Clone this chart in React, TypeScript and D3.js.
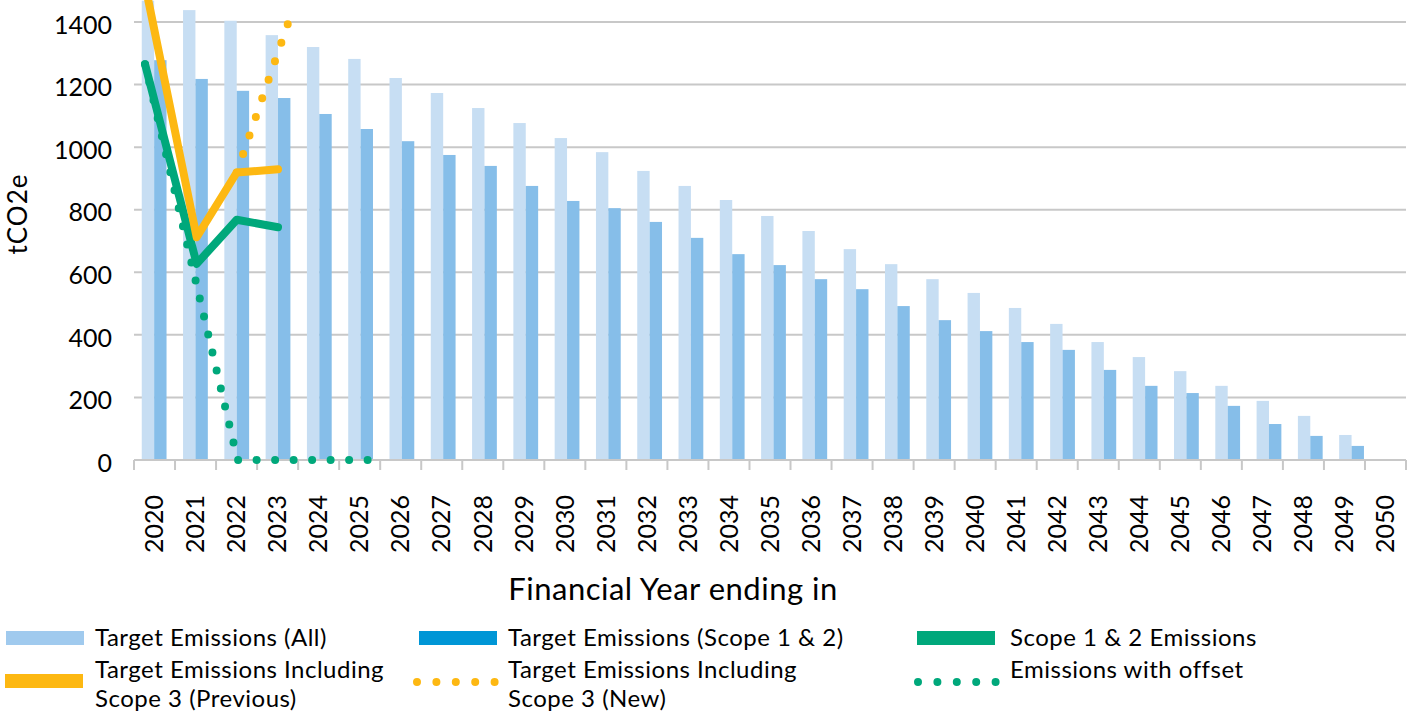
import React from "react";
import * as d3 from "d3";

const years = [
  "2020", "2021", "2022", "2023", "2024", "2025", "2026", "2027", "2028", "2029", "2030",
  "2031", "2032", "2033", "2034", "2035", "2036", "2037", "2038", "2039", "2040",
  "2041", "2042", "2043", "2044", "2045", "2046", "2047", "2048", "2049", "2050",
];

const targetAll = [
  1468, 1438, 1404, 1358, 1320, 1282, 1221, 1173, 1125, 1077, 1029,
  984, 924, 876, 831, 780, 732, 674, 626, 578, 534,
  486, 435, 377, 329, 284, 237, 189, 141, 80, 0,
];

const targetScope12 = [
  1278, 1218, 1180, 1157, 1106, 1058, 1019, 975, 940, 876, 828,
  805, 761, 710, 658, 623, 578, 546, 492, 447, 412,
  377, 352, 288, 237, 214, 173, 115, 77, 45, 0,
];

const yTicks = [0, 200, 400, 600, 800, 1000, 1200, 1400];

// line series: [position on the year axis, tCO2e]
const scope12Emissions: [number, number][] = [[2019.78, 1265], [2021.03, 627], [2022, 768], [2023, 744]];
const scope3Previous: [number, number][] = [[2019.78, 1520], [2021.03, 712], [2022, 919], [2023, 929]];
const scope3New: [number, number][] = [[2022, 919], [2023.24, 1395]];
const withOffset: [number, number][] = [[2019.78, 1265], [2022.02, 0], [2025.2, 0]];

const legendLabels = [
  ["Target Emissions (All)"],
  ["Target Emissions (Scope 1 & 2)"],
  ["Scope 1 & 2 Emissions"],
  ["Target Emissions Including", "Scope 3 (Previous)"],
  ["Target Emissions Including", "Scope 3 (New)"],
  ["Emissions with offset"],
];

const LIGHT_BAR = "#C7DEF3";
const DARK_BAR = "#86BEE9";
const LIGHT_KEY = "#A0CAEE";
const DARK_KEY = "#0096D6";
const YELLOW = "#FDB812";
const GREEN = "#00A87B";
const GRID = "#C8C8C8";
const FONT = "Lato, 'Open Sans', sans-serif";

export default function App() {
  const W = 1413, H = 713;
  const left = 134, right = 1406, top = 22, bottom = 460;

  // ticks and labels sit on this band
  const xTick = d3.scaleBand().domain(years).range([left, right]);
  // bars and lines sit on a slightly wider year axis
  const xPos = d3.scaleLinear().domain([2019.5, 2050.5]).range([133.5, 1413.5]);
  const y = d3.scaleLinear().domain([0, 1400]).range([bottom, top]);

  const barStep = xPos(1) - xPos(0);
  const barW = barStep * 0.3;
  const line = d3.line<[number, number]>().x(d => xPos(d[0])).y(d => y(d[1]));

  const boundaries = years.map(yr => xTick(yr) as number).concat([right]);

  // legend layout
  const colSwatch = [6, 419, 917];
  const colText = [95, 508, 1010];
  const swatchW = 78;

  return (
    <svg width={W} height={H} style={{ position: "absolute", left: 0, top: 0 }} fontFamily={FONT}>
      <rect width={W} height={H} fill="#fff" />

      {/* gridlines */}
      {yTicks.filter(t => t > 0).map(t => (
        <line key={t} x1={left} x2={right} y1={y(t)} y2={y(t)} stroke={GRID} strokeWidth={2} />
      ))}

      {/* bars */}
      {years.map((yr, i) => {
        const c = xPos(+yr);
        return (
          <g key={yr}>
            <rect x={c - barW} y={y(targetAll[i])} width={barW} height={bottom - y(targetAll[i])} fill={LIGHT_BAR} />
            <rect x={c} y={y(targetScope12[i])} width={barW} height={bottom - y(targetScope12[i])} fill={DARK_BAR} />
          </g>
        );
      })}

      {/* x axis */}
      <line x1={left} x2={right} y1={bottom} y2={bottom} stroke={GRID} strokeWidth={2} />
      {boundaries.map((bx, i) => (
        <line key={i} x1={bx} x2={bx} y1={bottom} y2={bottom + 10} stroke={GRID} strokeWidth={2} />
      ))}
      {years.map(yr => {
        const cx = (xTick(yr) as number) + xTick.bandwidth() / 2;
        return (
          <text key={yr} x={cx} y={553} dy="0.35em" fontSize={25} fill="#000"
            transform={`rotate(-90, ${cx}, 553)`} textAnchor="start">{yr}</text>
        );
      })}

      {/* y axis labels */}
      {yTicks.map(t => (
        <text key={t} x={112} y={y(t) + 3} dy="0.35em" fontSize={25} textAnchor="end" fill="#000">{t}</text>
      ))}
      <text x={18} y={214} dy="0.35em" fontSize={26} letterSpacing={1} textAnchor="middle" fill="#000"
        transform="rotate(-90, 18, 214)">tCO2e</text>
      <text x={673} y={600} fontSize={31} letterSpacing={0.5} textAnchor="middle" fill="#000">Financial Year ending in</text>

      {/* lines */}
      <path d={line(scope12Emissions) || ""} fill="none" stroke={GREEN} strokeWidth={8} strokeLinejoin="round" strokeLinecap="round" />
      <path d={line(scope3Previous) || ""} fill="none" stroke={YELLOW} strokeWidth={8} strokeLinejoin="round" strokeLinecap="round" />
      <path d={line(scope3New) || ""} fill="none" stroke={YELLOW} strokeWidth={8} strokeDasharray="0 19.6" strokeLinecap="round" />
      <path d={line(withOffset) || ""} fill="none" stroke={GREEN} strokeWidth={8} strokeDasharray="0 18.5" strokeLinecap="round" />

      {/* legend */}
      <rect x={colSwatch[0]} y={631} width={swatchW} height={14} fill={LIGHT_KEY} />
      <rect x={colSwatch[1]} y={631} width={swatchW} height={14} fill={DARK_KEY} />
      <rect x={colSwatch[2]} y={631} width={swatchW} height={14} fill={GREEN} />
      <rect x={colSwatch[0] - 1} y={674} width={swatchW} height={14} fill={YELLOW} />
      <line x1={417} x2={495.5} y1={682} y2={682} stroke={YELLOW} strokeWidth={8} strokeDasharray="0 19.4" strokeLinecap="round" />
      <line x1={918} x2={996.5} y1={682} y2={682} stroke={GREEN} strokeWidth={8} strokeDasharray="0 19.4" strokeLinecap="round" />
      {legendLabels.map((lines, i) => {
        const col = i % 3;
        const row = Math.floor(i / 3);
        const base = row === 0 ? 646 : 678;
        return (
          <text key={i} x={colText[col]} y={base} fontSize={24} letterSpacing={0.5} fill="#000">
            {lines.map((l, j) => (
              <tspan key={j} x={colText[col]} y={base + j * 29}>{l}</tspan>
            ))}
          </text>
        );
      })}
    </svg>
  );
}
